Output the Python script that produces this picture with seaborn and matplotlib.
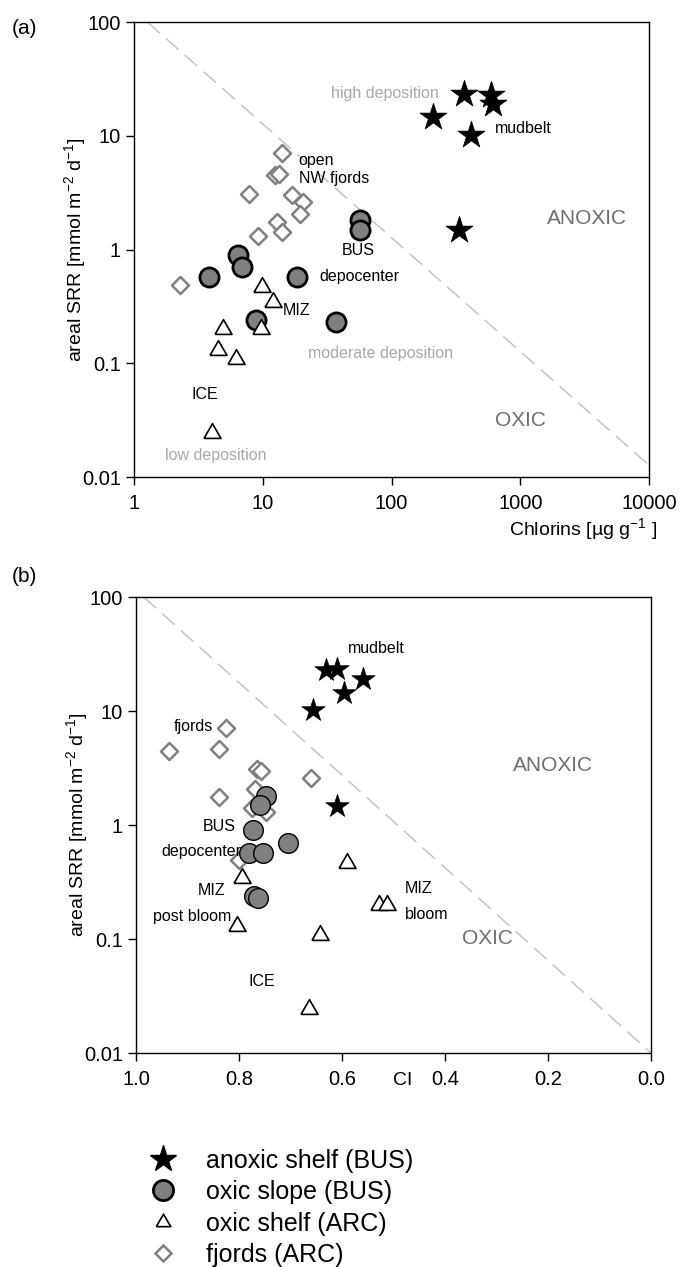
import numpy as np
import pandas as pd
import matplotlib
matplotlib.use("Agg")
import matplotlib.pyplot as plt
from matplotlib.markers import MarkerStyle
from matplotlib.lines import Line2D
from matplotlib.ticker import FixedLocator, FixedFormatter, NullLocator
import seaborn as sns

# ---------------- data ----------------
groups = ["anoxic shelf (BUS)", "oxic slope (BUS)", "oxic shelf (ARC)", "fjords (ARC)"]

star_chl = [363, 593, 610, 209, 415, 337]
star_ci = [0.609, 0.632, 0.560, 0.596, 0.656, 0.609]
star_srr = [23.2, 23.0, 19.0, 14.5, 10.2, 1.47]

circ_chl = [57, 57, 6.44, 6.96, 3.84, 18.6, 8.83, 36.8]
circ_ci = [0.748, 0.759, 0.772, 0.704, 0.781, 0.753, 0.770, 0.763]
circ_srr = [1.80, 1.49, 0.90, 0.70, 0.57, 0.57, 0.238, 0.23]

tri_chl = [9.88, 12.0, 4.87, 9.77, 4.5, 6.25, 4.02]
tri_ci = [0.591, 0.795, 0.528, 0.513, 0.804, 0.643, 0.665]
tri_srr = [0.467, 0.345, 0.20, 0.20, 0.13, 0.108, 0.0245]

fj_chl = [14.2, 12.4, 13.4, 7.83, 17.0, 20.5, 19.6, 12.8, 14.0, 9.2, 2.27]
fj_ci = [0.825, 0.936, 0.839, 0.766, 0.757, 0.661, 0.769, 0.839, 0.775, 0.748, 0.800]
fj_srr = [7.1, 4.5, 4.6, 3.1, 3.0, 2.6, 2.07, 1.75, 1.42, 1.31, 0.49]

# oxic/anoxic boundary lines
bound_a_x = [1.27, 10000]
bound_a_y = [100, 0.0127]
bound_b_x = [0.985, 0.0]
bound_b_y = [100, 0.01]

yticks = [0.01, 0.1, 1, 10, 100]
ytick_labels = ["0.01", "0.1", "1", "10", "100"]
xticks_a = [1, 10, 100, 1000, 10000]
xtick_labels_a = ["1", "10", "100", "1000", "10000"]
xticks_b = [1.0, 0.8, 0.6, 0.4, 0.2, 0.0]
xtick_labels_b = ["1.0", "0.8", "0.6", "0.4", "0.2", "0.0"]

frames = []
for g, chl, ci, srr in zip(groups,
                           [star_chl, circ_chl, tri_chl, fj_chl],
                           [star_ci, circ_ci, tri_ci, fj_ci],
                           [star_srr, circ_srr, tri_srr, fj_srr]):
    frames.append(pd.DataFrame({"group": g, "chlorins": chl, "CI": ci, "SRR": srr}))
df = pd.concat(frames, ignore_index=True)

# ---------------- style ----------------
sns.set_style("ticks")
plt.rcParams["font.family"] = ["Liberation Sans", "DejaVu Sans"]
plt.rcParams["mathtext.fontset"] = "custom"
plt.rcParams["mathtext.rm"] = "Liberation Sans"
plt.rcParams["mathtext.it"] = "Liberation Sans:italic"
plt.rcParams["mathtext.bf"] = "Liberation Sans:bold"
for key in ["text.color", "axes.labelcolor", "xtick.color", "ytick.color", "axes.edgecolor"]:
    plt.rcParams[key] = "black"

tri_marker = MarkerStyle([(-1.0, -0.577), (1.0, -0.577), (0.0, 1.155), (-1.0, -0.577)])

LIGHT = "#a8a8a8"
DARK = "#6e6e6e"
TXT = 11.5

styles_a = {
    "fjords (ARC)": dict(marker="D", s=75, color="white", edgecolor="#808080", linewidth=1.8),
    "oxic slope (BUS)": dict(marker="o", s=190, color="#808080", edgecolor="black", linewidth=2.0),
    "oxic shelf (ARC)": dict(marker=tri_marker, s=200, color="white", edgecolor="black", linewidth=1.2),
    "anoxic shelf (BUS)": dict(marker="*", s=420, color="black", edgecolor="black", linewidth=0.5),
}
styles_b = {
    "fjords (ARC)": dict(marker="D", s=75, color="white", edgecolor="#808080", linewidth=1.8),
    "oxic slope (BUS)": dict(marker="o", s=200, color="#808080", edgecolor="black", linewidth=1.0),
    "oxic shelf (ARC)": dict(marker=tri_marker, s=200, color="white", edgecolor="black", linewidth=1.2),
    "anoxic shelf (BUS)": dict(marker="*", s=310, color="black", edgecolor="black", linewidth=0.5),
}
draw_order = ["fjords (ARC)", "oxic slope (BUS)", "oxic shelf (ARC)", "anoxic shelf (BUS)"]

fig = plt.figure(figsize=(6.8, 12.67), dpi=100)
axA = fig.add_axes([0.19706, 0.62352, 0.7574, 0.3591])
axB = fig.add_axes([0.2, 0.1689, 0.7574, 0.3599])


def style_axis(ax):
    for sp in ax.spines.values():
        sp.set_visible(True)
        sp.set_linewidth(1.0)
        sp.set_color("black")
    ax.tick_params(axis="both", which="major", direction="out", length=6, width=1.0,
                   labelsize=14.5, color="black", labelcolor="black", top=False, right=False)
    ax.tick_params(axis="x", pad=6)
    ax.set_yscale("log")
    ax.set_ylim(0.01, 100)
    ax.yaxis.set_major_locator(FixedLocator(yticks))
    ax.yaxis.set_major_formatter(FixedFormatter(ytick_labels))
    ax.yaxis.set_minor_locator(NullLocator())
    ax.set_ylabel(r"areal SRR [mmol m$^{-2}$ d$^{-1}$]", fontsize=14, color="black")
    ax.yaxis.set_label_coords(-0.09, 0.5)


# ---------------- panel (a) ----------------
axA.plot(bound_a_x, bound_a_y, color="#c0c0c0", lw=1.0, dashes=(12, 6), zorder=1)
for g in draw_order:
    sns.scatterplot(data=df[df.group == g], x="chlorins", y="SRR", ax=axA,
                    legend=False, zorder=3, **styles_a[g])
axA.set_xscale("log")
axA.set_xlim(1, 10000)
style_axis(axA)
axA.xaxis.set_major_locator(FixedLocator(xticks_a))
axA.xaxis.set_major_formatter(FixedFormatter(xtick_labels_a))
axA.xaxis.set_minor_locator(NullLocator())
axA.set_xlabel(r"Chlorins [µg g$^{-1}$ ]", fontsize=14, color="black")
axA.xaxis.set_label_coords(0.872, -0.086)

axA.text(231, 23.3, "high deposition", color=LIGHT, fontsize=TXT, ha="right", va="center")
axA.text(640, 11.5, "mudbelt", color="black", fontsize=TXT, ha="left", va="center")
axA.text(19.0, 6.04, "open", color="black", fontsize=TXT, ha="left", va="center")
axA.text(19.0, 4.2, "NW fjords", color="black", fontsize=TXT, ha="left", va="center")
axA.text(1619, 1.87, "ANOXIC", color=DARK, fontsize=15, ha="left", va="center")
axA.text(55.5, 0.98, "BUS", color="black", fontsize=TXT, ha="center", va="center")
axA.text(27.7, 0.58, "depocenter", color="black", fontsize=TXT, ha="left", va="center")
axA.text(14.3, 0.29, "MIZ", color="black", fontsize=TXT, ha="left", va="center")
axA.text(22.3, 0.122, "moderate deposition", color=LIGHT, fontsize=TXT, ha="left", va="center")
axA.text(640, 0.0316, "OXIC", color=DARK, fontsize=15, ha="left", va="center")
axA.text(2.82, 0.0534, "ICE", color="black", fontsize=TXT, ha="left", va="center")
axA.text(1.74, 0.0153, "low deposition", color=LIGHT, fontsize=TXT, ha="left", va="center")

# ---------------- panel (b) ----------------
axB.plot(bound_b_x, bound_b_y, color="#c0c0c0", lw=1.0, dashes=(12, 6), zorder=1)
for g in draw_order:
    sns.scatterplot(data=df[df.group == g], x="CI", y="SRR", ax=axB,
                    legend=False, zorder=3, **styles_b[g])
axB.set_xlim(1.0, 0.0)
style_axis(axB)
axB.xaxis.set_major_locator(FixedLocator(xticks_b))
axB.xaxis.set_major_formatter(FixedFormatter(xtick_labels_b))
axB.xaxis.set_minor_locator(NullLocator())
axB.set_xlabel("CI", fontsize=14, color="black")
axB.xaxis.set_label_coords(0.517, -0.042)

axB.text(0.588, 35.7, "mudbelt", color="black", fontsize=TXT, ha="left", va="center")
axB.text(0.926, 7.38, "fjords", color="black", fontsize=TXT, ha="left", va="center")
axB.text(0.268, 3.36, "ANOXIC", color=DARK, fontsize=15, ha="left", va="center")
axB.text(0.870, 0.98, "BUS", color="black", fontsize=TXT, ha="left", va="center")
axB.text(0.951, 0.59, "depocenter", color="black", fontsize=TXT, ha="left", va="center")
axB.text(0.880, 0.264, "MIZ", color="black", fontsize=TXT, ha="left", va="center")
axB.text(0.967, 0.156, "post bloom", color="black", fontsize=TXT, ha="left", va="center")
axB.text(0.781, 0.042, "ICE", color="black", fontsize=TXT, ha="left", va="center")
axB.text(0.478, 0.275, "MIZ", color="black", fontsize=TXT, ha="left", va="center")
axB.text(0.478, 0.163, "bloom", color="black", fontsize=TXT, ha="left", va="center")
axB.text(0.367, 0.102, "OXIC", color=DARK, fontsize=15, ha="left", va="center")

# panel labels
fig.text(12 / 680, 1 - 28 / 1267, "(a)", fontsize=15, ha="left", va="center", color="black")
fig.text(12 / 680, 1 - 577 / 1267, "(b)", fontsize=15, ha="left", va="center", color="black")

# ---------------- legend ----------------
handles = [
    Line2D([], [], ls="none", marker="*", markersize=20, color="black", mec="black"),
    Line2D([], [], ls="none", marker="o", markersize=14.5, mfc="#808080", mec="black", mew=2.0),
    Line2D([], [], ls="none", marker=tri_marker, markersize=12, mfc="white", mec="black", mew=1.2),
    Line2D([], [], ls="none", marker="D", markersize=8, mfc="white", mec="#808080", mew=1.8),
]
leg = fig.legend(handles, groups, loc="upper left", bbox_to_anchor=(0.2115, 0.0935),
                 frameon=False, fontsize=18, handlelength=1.5, handletextpad=1.0,
                 labelspacing=0.3, borderpad=0, borderaxespad=0)
for t in leg.get_texts():
    t.set_color("black")

fig.savefig("out.png", dpi=100)
